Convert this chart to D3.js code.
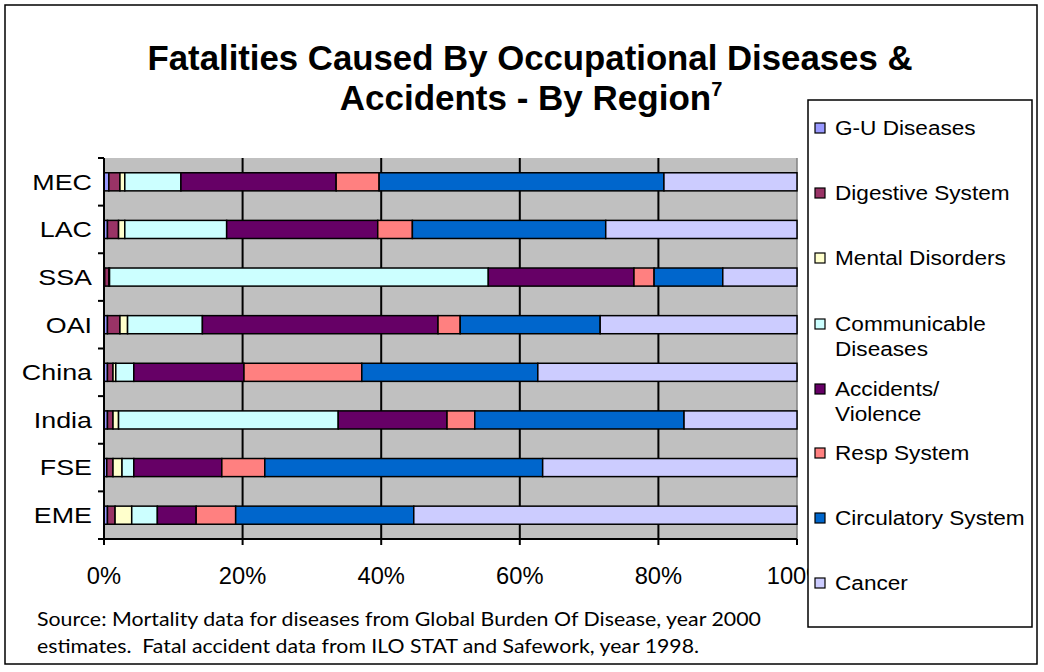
<!DOCTYPE html>
<html><head><meta charset="utf-8">
<script src="https://cdn.jsdelivr.net/npm/d3@7"></script>
<style>body{margin:0;background:#fff}svg{display:block}</style>
</head><body>
<svg id="c" width="1044" height="672"></svg>
<script>
const regions = ["MEC","LAC","SSA","OAI","China","India","FSE","EME"];
const seriesNames = ["G-U Diseases","Digestive System","Mental Disorders","Communicable Diseases","Accidents/ Violence","Resp System","Circulatory System","Cancer"];
const legendLines = [["G-U Diseases"],["Digestive System"],["Mental Disorders"],["Communicable","Diseases"],["Accidents/","Violence"],["Resp System"],["Circulatory System"],["Cancer"]];
const colors = ["#9999FF","#993366","#FFFFCC","#CCFFFF","#660066","#FF8080","#0066CC","#CCCCFF"];
// percent values per series, in region order
const guDiseases   = [0.7, 0.5, 0.1, 0.5, 0.5, 0.5, 0.4, 0.5];
const digestive    = [1.6, 1.6, 0.6, 1.8, 0.8, 0.8, 0.9, 1.1];
const mental       = [0.7, 0.9, 0.1, 1.1, 0.4, 0.8, 1.3, 2.4];
const communicable = [8.1, 14.7, 54.6, 10.8, 2.6, 31.7, 1.7, 3.7];
const accidents    = [22.4, 21.8, 21.0, 34.0, 15.9, 15.7, 12.7, 5.6];
const respiratory  = [6.2, 5.0, 2.9, 3.2, 17.0, 4.0, 6.2, 5.7];
const circulatory  = [41.1, 27.9, 9.9, 20.2, 25.4, 30.2, 40.1, 25.7];
const cancer       = [19.2, 27.6, 10.7, 28.4, 37.4, 16.3, 36.7, 55.3];
const xTicks = [0, 0.2, 0.4, 0.6, 0.8, 1];
const xTickLabels = ["0%","20%","40%","60%","80%","100%"];

const seriesVals = [guDiseases, digestive, mental, communicable, accidents, respiratory, circulatory, cancer];
const keys = seriesNames;
const rows = regions.map((r,i)=>{const o={region:r};keys.forEach((k,j)=>o[k]=seriesVals[j][i]);return o;});
const stack = d3.stack().keys(keys).offset(d3.stackOffsetExpand);
const layers = stack(rows);

const svg = d3.select("#c");
const AF = "'Liberation Sans', Arial, sans-serif";
function stretch(sel, s){
  sel.each(function(){const w=this.getComputedTextLength();
    d3.select(this).attr("textLength",w*s).attr("lengthAdjust","spacingAndGlyphs");});
}
// outer border
svg.append("rect").attr("x",5).attr("y",5).attr("width",1032).attr("height",659)
  .attr("fill","#fff").attr("stroke","#000").attr("stroke-width",1.5);

const L=104, R=797, T=158, B=539;
const x = d3.scaleLinear().domain([0,1]).range([L,R]);
const y = d3.scaleBand().domain(regions).range([T,B]).paddingInner(0.62).paddingOuter(0.31);

// plot area
svg.append("rect").attr("x",L).attr("y",T).attr("width",R-L).attr("height",B-T).attr("fill","#C0C0C0");
svg.append("line").attr("x1",R).attr("x2",R).attr("y1",T).attr("y2",B).attr("stroke","#808080").attr("stroke-width",1.5);
// gridlines
svg.append("g").selectAll("line").data(xTicks.slice(1,-1)).join("line")
  .attr("x1",d=>x(d)).attr("x2",d=>x(d)).attr("y1",T).attr("y2",B)
  .attr("stroke","#000").attr("stroke-width",2);

// bars
svg.append("g").selectAll("g").data(layers).join("g")
  .attr("fill",(d,i)=>colors[i])
  .selectAll("rect").data(d=>d).join("rect")
  .attr("x",d=>x(d[0])).attr("width",d=>Math.max(0,x(d[1])-x(d[0])))
  .attr("y",d=>y(d.data.region)).attr("height",y.bandwidth())
  .attr("stroke","#000").attr("stroke-width",1.5);

// y axis
const step = (B-T)/regions.length;
svg.append("line").attr("x1",L).attr("x2",L).attr("y1",T).attr("y2",B+5).attr("stroke","#000").attr("stroke-width",2);
svg.append("g").selectAll("line").data(d3.range(regions.length+1)).join("line")
  .attr("x1",L-6).attr("x2",L).attr("y1",i=>T+i*step).attr("y2",i=>T+i*step)
  .attr("stroke","#000").attr("stroke-width",2);
svg.append("g").selectAll("text").data(regions).join("text")
  .attr("x",92).attr("y",d=>y(d)+y.bandwidth()/2).attr("dy","0.36em")
  .attr("text-anchor","end").attr("font-family",AF).attr("font-size",22).text(d=>d)
  .call(stretch,1.22);

// x axis
svg.append("line").attr("x1",L-6).attr("x2",R).attr("y1",B).attr("y2",B).attr("stroke","#000").attr("stroke-width",2);
svg.append("g").selectAll("line").data(xTicks).join("line")
  .attr("x1",d=>x(d)).attr("x2",d=>x(d)).attr("y1",B).attr("y2",B+6).attr("stroke","#000").attr("stroke-width",2);
svg.append("g").selectAll("text").data(xTicks).join("text")
  .attr("x",d=>x(d)).attr("y",576).attr("dy","0.36em").attr("text-anchor","middle")
  .attr("font-family",AF).attr("font-size",23).text((d,i)=>xTickLabels[i])
  .call(stretch,1.03);

// title
svg.append("text").attr("x",530).attr("y",70).attr("text-anchor","middle").attr("font-family",AF)
  .attr("font-weight","bold").attr("font-size",35).text("Fatalities Caused By Occupational Diseases &")
  .attr("textLength",765).attr("lengthAdjust","spacingAndGlyphs");
const t2 = svg.append("text").attr("x",531).attr("y",110).attr("text-anchor","middle").attr("font-family",AF)
  .attr("font-weight","bold").attr("font-size",35);
t2.append("tspan").text("Accidents - By Region");
t2.append("tspan").attr("font-size",20).attr("dy",-14).text("7");

// source
const SF = "Lato, 'Open Sans', sans-serif";
svg.append("text").attr("x",37).attr("y",626).attr("font-family",SF)
  .attr("font-size",19).text("Source: Mortality data for diseases from Global Burden Of Disease, year 2000")
  .attr("textLength",724).attr("lengthAdjust","spacingAndGlyphs");
svg.append("text").attr("x",37).attr("y",653).attr("font-family",SF)
  .attr("font-size",19).text("estimates.  Fatal accident data from ILO STAT and Safework, year 1998.")
  .attr("textLength",662).attr("lengthAdjust","spacingAndGlyphs").attr("xml:space","preserve");

// legend
const lg = svg.append("g");
lg.append("rect").attr("x",808).attr("y",100).attr("width",224).attr("height",527)
  .attr("fill","#fff").attr("stroke","#000").attr("stroke-width",1.5);
const legY = [128,193,258,324,389,453,518,583];
legendLines.forEach((lines,i)=>{
  lg.append("rect").attr("x",815).attr("y",legY[i]-5).attr("width",10).attr("height",10)
    .attr("fill",colors[i]).attr("stroke","#000").attr("stroke-width",1.2);
  lines.forEach((s,k)=>lg.append("text").attr("font-family",AF).attr("font-size",20)
    .attr("x",835).attr("y",legY[i]+k*25).attr("dy","0.36em").text(s).call(stretch,1.13));
});
</script>
</body></html>
